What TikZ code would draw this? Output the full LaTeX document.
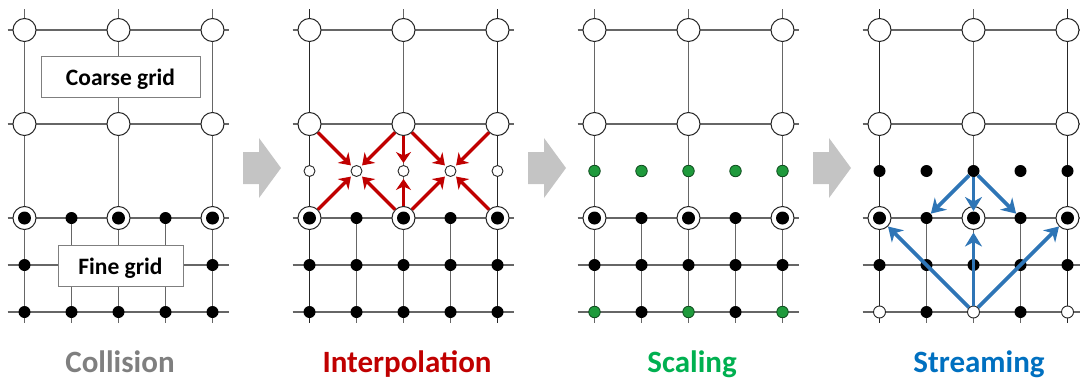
\documentclass[tikz,border=0pt]{standalone}
\usepackage{fontspec}
\setmainfont{Carlito}
\usetikzlibrary{arrows.meta}

\definecolor{gridgray}{HTML}{666666}
\definecolor{darkline}{HTML}{262626}
\definecolor{stepgray}{HTML}{7F7F7F}
\definecolor{stepred}{HTML}{C00000}
\definecolor{stepgreen}{HTML}{00B050}
\definecolor{stepblue}{HTML}{0070C0}
\definecolor{streamblue}{HTML}{2E75B6}
\definecolor{dotgreen}{HTML}{1F9A3C}
\definecolor{dotgreenline}{HTML}{0E4D1E}
\definecolor{bigarrow}{HTML}{C4C4C4}

\tikzset{
  gridline/.style={draw=gridgray, line width=1.4pt},
  coarsenode/.style={circle, draw=black!85, line width=1pt, fill=white,
    minimum size=23pt, inner sep=0pt},
  finenode/.style={circle, fill=black, minimum size=12pt, inner sep=0pt},
  innerdot/.style={circle, fill=black, minimum size=13pt, inner sep=0pt},
  hollownode/.style={circle, draw=black!85, line width=0.9pt, fill=white,
    minimum size=12pt, inner sep=0pt},
  midnode/.style={circle, draw=black!85, line width=0.9pt, fill=white,
    minimum size=11pt, inner sep=0pt},
  greennode/.style={circle, draw=dotgreenline, line width=0.8pt, fill=dotgreen,
    minimum size=11.5pt, inner sep=0pt},
  labelbox/.style={draw=stepgray, line width=1pt, fill=white, inner sep=0pt},
  boxtext/.style={font=\bfseries\fontsize{23.5}{24}\selectfont, anchor=base, inner sep=0pt},
  steptitle/.style={font=\bfseries\fontsize{31}{32}\selectfont, anchor=base, inner sep=0pt},
  interparrow/.style={draw=stepred, line width=3.3pt,
    -{Stealth[length=11pt, width=15pt, inset=3.5pt]}, shorten >=2pt},
  streamarrow/.style={draw=streamblue, line width=3.8pt,
    -{Stealth[length=14pt, width=17pt, inset=4.5pt]}},
}

% Shared lattice of one panel: lines, coarse nodes, fine nodes (rows 4 and 5,
% and the two fine-only points of row 6).  #1 = name prefix, #2 = colour of
% the two outer vertical lines.
\newcommand\basegrid[2]{%
  \foreach \j in {0,2,4,5,6}
    \draw[gridline] (7.5,{30+47*\j}) -- (228.5,{30+47*\j});
  \foreach \i in {0,4}
    \draw[gridline, draw=#2] ({24.5+47*\i},9) -- ({24.5+47*\i},323);
  \draw[gridline] (118.5,9) -- (118.5,323);
  \foreach \i in {1,3}
    \draw[gridline] ({24.5+47*\i},218) -- ({24.5+47*\i},323);
  \foreach \i in {0,2,4} {
    \foreach \j in {0,2}
      \node[coarsenode] (#1-\i-\j) at ({24.5+47*\i},{30+47*\j}) {};
    \node[coarsenode] (#1-\i-4) at ({24.5+47*\i},218) {};
    \node[innerdot] (#1-\i-4c) at ({24.5+47*\i},218) {};
  }
  \foreach \i in {1,3} {
    \node[finenode] (#1-\i-4) at ({24.5+47*\i},218) {};
    \node[finenode] (#1-\i-6) at ({24.5+47*\i},312) {};
  }
  \foreach \i in {0,...,4}
    \node[finenode] (#1-\i-5) at ({24.5+47*\i},265) {};
}

\begin{document}
\begin{tikzpicture}[x=1pt, y=-1pt]
\useasboundingbox (0,0) rectangle (1080,378);

% block arrows between the four steps
\foreach \s in {0,285,570}
  \fill[bigarrow, xshift=\s] (243,152) -- (259,152) -- (259,138) -- (281,168)
    -- (259,198) -- (259,184) -- (243,184) -- cycle;

% ---- step 1: collision ----
\begin{scope}
  \basegrid{a}{gridgray}
  \foreach \i in {0,2,4}
    \node[finenode] (a-\i-6) at ({24.5+47*\i},312) {};
  \node[labelbox, minimum width=159pt, minimum height=41pt] (coarsebox) at (120.5,76.5) {};
  \node[boxtext] (coarsetext) at (120.5,85) {Coarse grid};
  \node[labelbox, minimum width=125pt, minimum height=41pt] (finebox) at (120.5,265.5) {};
  \node[boxtext] (finetext) at (120.5,274) {Fine grid};
  \node[steptitle, text=stepgray] (title1) at (120,372) {Collision};
\end{scope}

% ---- step 2: interpolation ----
\begin{scope}[xshift=285]
  \basegrid{b}{darkline}
  \foreach \i in {0,2,4}
    \node[finenode] (b-\i-6) at ({24.5+47*\i},312) {};
  \foreach \i in {0,...,4}
    \node[midnode] (b-\i-3) at ({24.5+47*\i},171) {};
  \foreach \s/\t in {0-2/1-3, 2-2/1-3, 2-2/2-3, 2-2/3-3, 4-2/3-3,
                     0-4/1-3, 2-4/1-3, 2-4/2-3, 2-4/3-3, 4-4/3-3}
    \draw[interparrow] (b-\s) -- (b-\t);
  \node[steptitle, text=stepred] (title2) at (122,372) {Interpolation};
\end{scope}

% ---- step 3: scaling ----
\begin{scope}[xshift=570]
  \basegrid{c}{gridgray}
  \foreach \i in {0,2,4}
    \node[greennode] (c-\i-6) at ({24.5+47*\i},312) {};
  \foreach \i in {0,...,4}
    \node[greennode] (c-\i-3) at ({24.5+47*\i},171) {};
  \node[steptitle, text=stepgreen] (title3) at (122,372) {Scaling};
\end{scope}

% ---- step 4: streaming ----
\begin{scope}[xshift=855]
  \basegrid{d}{darkline}
  \foreach \i in {0,2,4}
    \node[hollownode] (d-\i-6) at ({24.5+47*\i},312) {};
  \foreach \i in {0,...,4}
    \node[finenode] (d-\i-3) at ({24.5+47*\i},171) {};
  \draw[streamarrow] (d-2-3) -- (d-1-4);
  \draw[streamarrow, shorten >=-5pt] (d-2-3) -- (d-2-4);
  \draw[streamarrow] (d-2-3) -- (d-3-4);
  \draw[streamarrow] (d-2-6) -- (d-0-4);
  \draw[streamarrow, shorten >=2.5pt] (d-2-6) -- (d-2-4);
  \draw[streamarrow] (d-2-6) -- (d-4-4);
  \node[steptitle, text=stepblue] (title4) at (124,372) {Streaming};
\end{scope}
\end{tikzpicture}
\end{document}
